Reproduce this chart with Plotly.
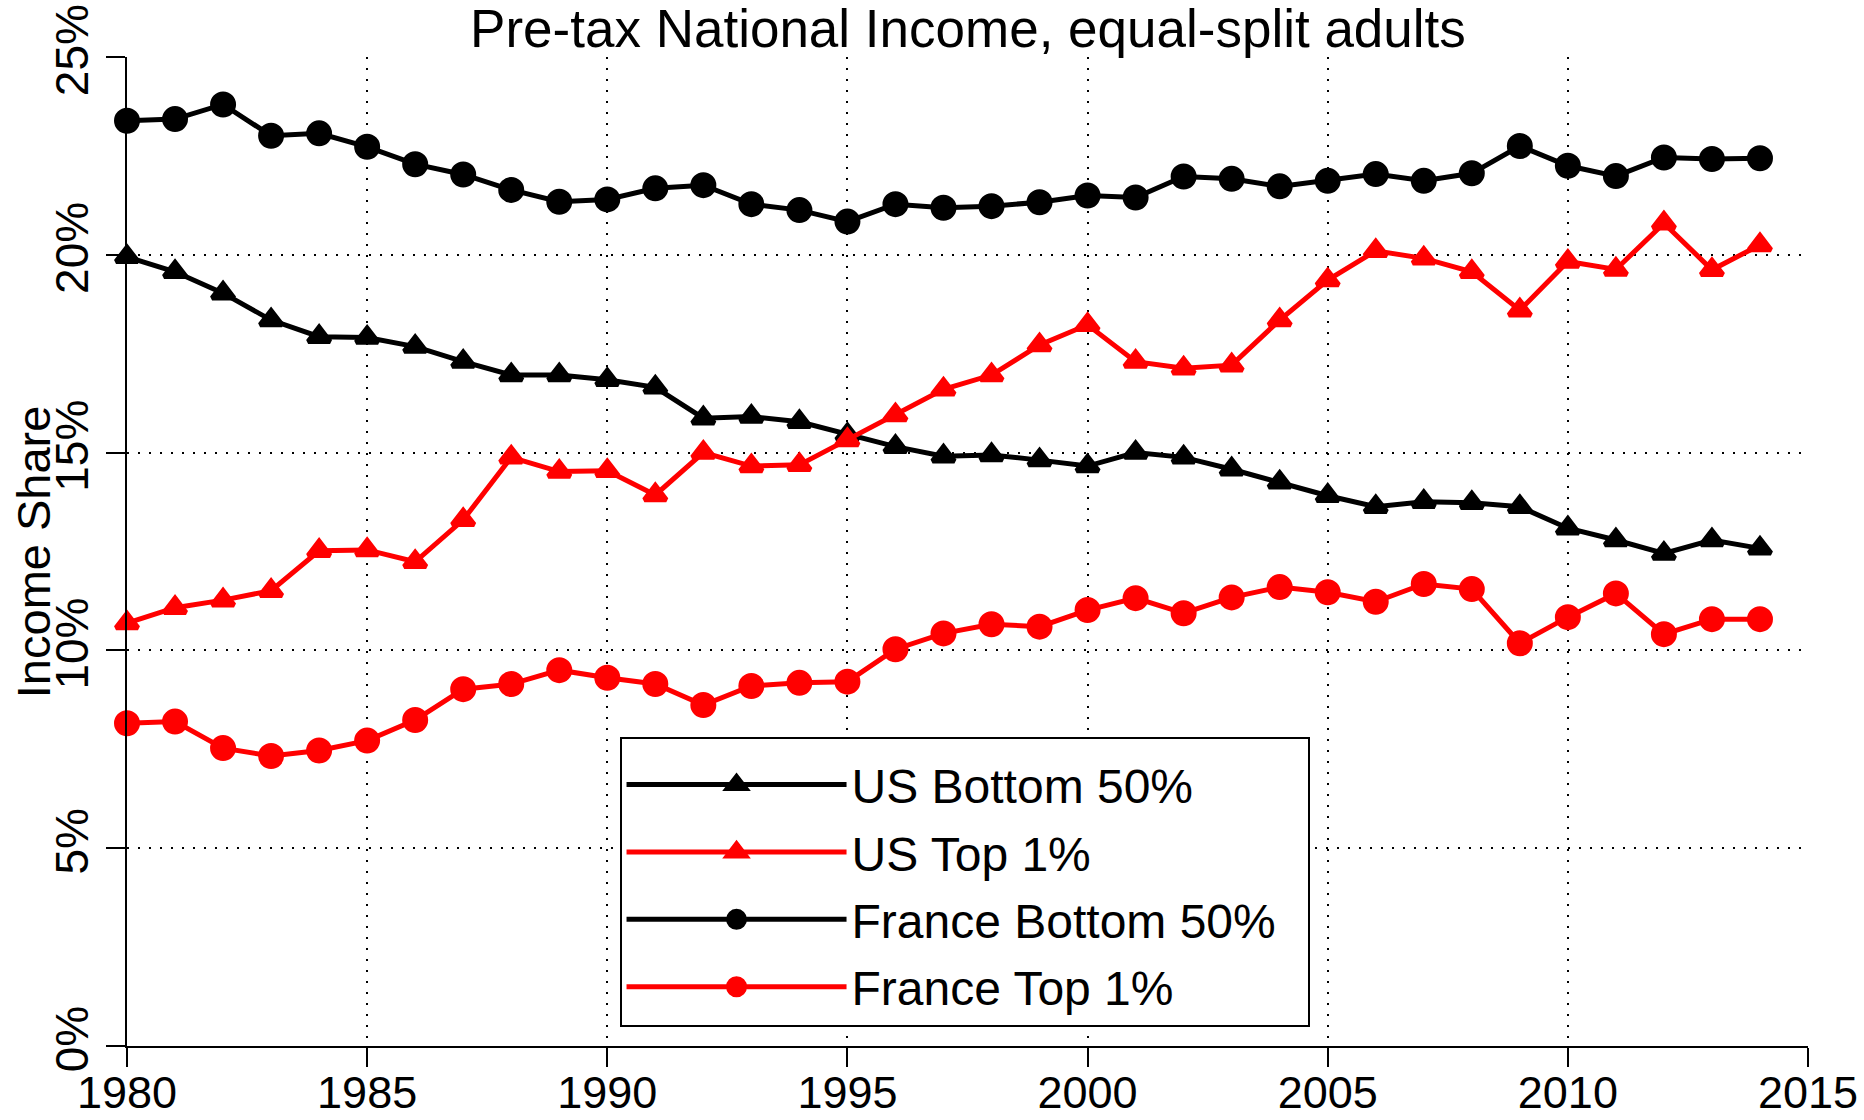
import plotly.graph_objects as go

years = list(range(1980, 2015))

us_bottom50 = [19.95, 19.57, 19.03, 18.35, 17.93, 17.91, 17.68, 17.30, 16.96, 16.96,
               16.84, 16.65, 15.87, 15.91, 15.78, 15.45, 15.15, 14.91, 14.94, 14.81,
               14.66, 15.00, 14.88, 14.58, 14.25, 13.91, 13.63, 13.76, 13.73, 13.63,
               13.09, 12.79, 12.45, 12.79, 12.58]
us_top1 = [10.69, 11.08, 11.27, 11.51, 12.52, 12.54, 12.24, 13.30, 14.88, 14.52,
           14.54, 13.93, 15.00, 14.66, 14.69, 15.32, 15.95, 16.60, 16.96, 17.72,
           18.23, 17.30, 17.13, 17.21, 18.35, 19.36, 20.10, 19.91, 19.57, 18.60,
           19.83, 19.63, 20.80, 19.62, 20.25]
fr_bottom50 = [23.39, 23.43, 23.80, 23.01, 23.07, 22.73, 22.29, 22.03, 21.64, 21.34,
               21.40, 21.68, 21.76, 21.28, 21.13, 20.84, 21.28, 21.19, 21.23, 21.33,
               21.50, 21.45, 21.98, 21.92, 21.73, 21.87, 22.04, 21.87, 22.06, 22.75,
               22.25, 21.99, 22.46, 22.42, 22.44]
fr_top1 = [8.16, 8.20, 7.53, 7.33, 7.47, 7.72, 8.24, 9.02, 9.15, 9.50,
           9.31, 9.15, 8.62, 9.10, 9.18, 9.21, 10.03, 10.43, 10.66, 10.60,
           11.02, 11.32, 10.94, 11.34, 11.60, 11.47, 11.23, 11.68, 11.55, 10.18,
           10.84, 11.44, 10.41, 10.79, 10.79]

x_ticks = [1980, 1985, 1990, 1995, 2000, 2005, 2010, 2015]
y_ticks = [0, 5, 10, 15, 20, 25]
y_ticktext = ["0%", "5%", "10%", "15%", "20%", "25%"]

# marker size + same-colour outline (the outline also enlarges the legend keys)
series = [
    ("US Bottom 50%", us_bottom50, "black", "triangle-up", 19),
    ("US Top 1%", us_top1, "#ff0000", "triangle-up", 19),
    ("France Bottom 50%", fr_bottom50, "black", "circle", 21),
    ("France Top 1%", fr_top1, "#ff0000", "circle", 21),
]

FONT = "Liberation Sans, Arial, Helvetica, sans-serif"
PAD = "\u00a0\u00a0"  # right padding inside the legend box

fig = go.Figure()
for i, (name, vals, color, sym, size) in enumerate(series):
    fig.add_trace(go.Scatter(
        x=years, y=vals, name=name + PAD, mode="lines+markers",
        line=dict(color=color, width=5),
        marker=dict(symbol=sym, size=size, color=color, line=dict(width=5, color=color)),
        cliponaxis=False, legendgroup=f"g{i}",
    ))

fig.update_layout(
    width=1864, height=1120,
    margin=dict(l=127, r=56, t=57, b=74, autoexpand=False),
    paper_bgcolor="white", plot_bgcolor="white",
    font=dict(family=FONT, color="black", size=45),
    title=dict(text="Pre-tax National Income, equal-split adults",
               x=0.5193, xanchor="center", y=0.975, yanchor="middle", yref="container",
               font=dict(size=53, family=FONT, color="black")),
    showlegend=True,
    legend=dict(x=0.293, y=0.3124, xanchor="left", yanchor="top",
                bordercolor="black", borderwidth=2, bgcolor="white",
                font=dict(size=48, family=FONT, color="black"),
                title=dict(text=" ", font=dict(size=6)),
                itemwidth=220, tracegroupgap=2, traceorder="grouped"),
    annotations=[dict(text="Income Share", textangle=-90, xref="paper", yref="paper",
                      x=-0.0555, y=0.5, xanchor="center", yanchor="middle",
                      showarrow=False, font=dict(size=47, family=FONT, color="black"))],
)

fig.update_xaxes(
    range=[1980, 2015], tickvals=x_ticks, ticks="outside", ticklen=19, tickwidth=2,
    tickcolor="black", showline=True, linecolor="black", linewidth=2,
    showgrid=True, gridcolor="black", gridwidth=2, griddash="2px,9px",
    zeroline=False, tickfont=dict(size=45, family=FONT), automargin=False,
    ticklabelstandoff=-13,
)
fig.update_yaxes(
    range=[0, 25], tickvals=y_ticks, ticktext=y_ticktext, tickangle=-90,
    ticks="outside", ticklen=19, tickwidth=2, tickcolor="black",
    showline=True, linecolor="black", linewidth=2,
    showgrid=True, gridcolor="black", gridwidth=2, griddash="2px,9px",
    zeroline=False, tickfont=dict(size=46, family=FONT), automargin=False,
)

fig.write_html("out.html", config={"displayModeBar": False},
               post_script="document.body.style.margin='0';")
